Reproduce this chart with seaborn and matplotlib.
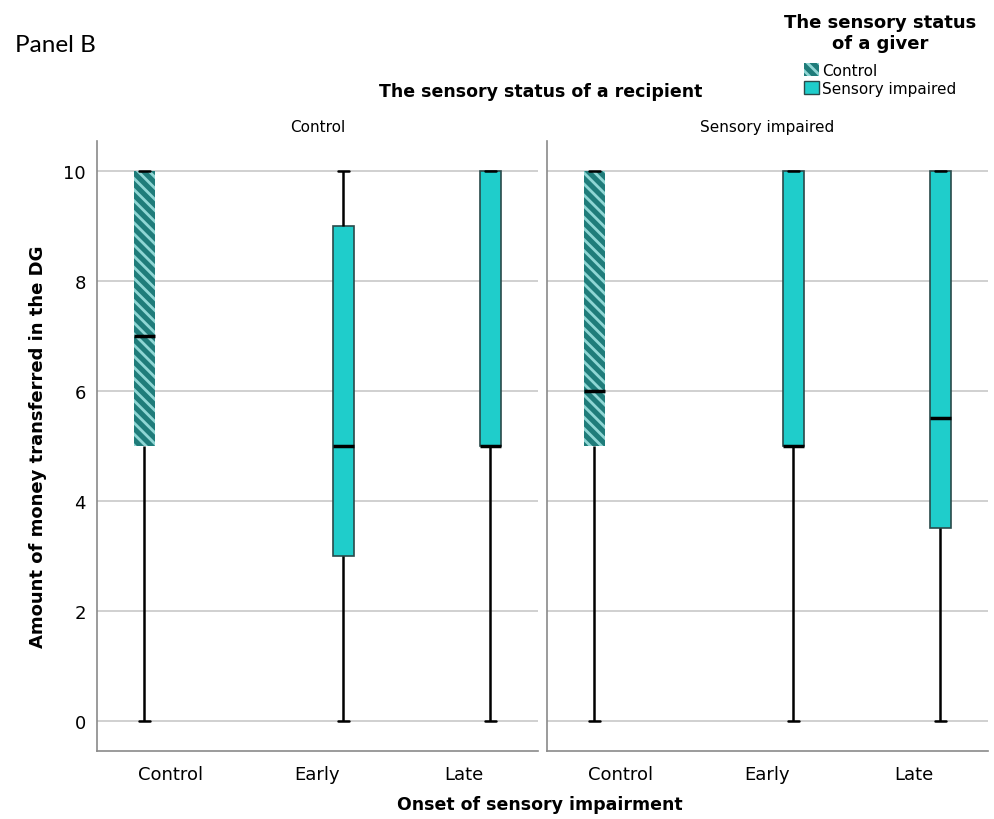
import pandas as pd
import seaborn as sns
import matplotlib.pyplot as plt
from matplotlib.patches import Patch

# Onset groups on the x axis and who is the giver in each group
onset_levels = ["Control", "Early", "Late"]
giver_of_onset = ["Control", "Sensory impaired", "Sensory impaired"]
giver_levels = ["Control", "Sensory impaired"]
recipient_levels = ["Control", "Sensory impaired"]

# five-number summaries: min, Q1, median, Q3, max
recip_control = [
    [0, 5, 7, 10, 10],     # Control
    [0, 3, 5, 9, 10],      # Early
    [0, 5, 5, 10, 10],     # Late
]
recip_impaired = [
    [0, 5, 6, 10, 10],     # Control
    [0, 5, 5, 10, 10],     # Early
    [0, 3.5, 5.5, 10, 10], # Late
]

dark_teal = "#1f7c7a"
stripe = "#8fd6d4"
cyan = "#1fcdcb"
box_edge = "#2a4a4a"

rows = []
for recip, stats in zip(recipient_levels, [recip_control, recip_impaired]):
    for onset, giver, vals in zip(onset_levels, giver_of_onset, stats):
        for v in vals:
            rows.append({"recipient": recip, "onset": onset, "giver": giver, "amount": v})
df = pd.DataFrame(rows)

sns.set_style("white")
plt.rcParams['font.family'] = ['DejaVu Sans']
plt.rcParams['hatch.linewidth'] = 2.0
for k in ['text.color', 'axes.labelcolor', 'xtick.color', 'ytick.color']:
    plt.rcParams[k] = 'black'

fig = plt.figure(figsize=(9.95, 8.2), dpi=100)
ax1 = fig.add_axes([0.0975, 0.083, 0.443, 0.744])
ax2 = fig.add_axes([0.5497, 0.083, 0.443, 0.744])

for ax, recip in zip([ax1, ax2], recipient_levels):
    sub = df[df["recipient"] == recip]
    sns.boxplot(
        data=sub, x="onset", y="amount", hue="giver",
        order=onset_levels, hue_order=giver_levels,
        palette={"Control": dark_teal, "Sensory impaired": cyan},
        saturation=1, whis=(0, 100), width=0.71, gap=0.6, dodge=True,
        linecolor=box_edge, linewidth=1.2,
        medianprops={"color": "black", "linewidth": 2.5},
        whiskerprops={"color": "black", "linewidth": 1.8},
        capprops={"color": "black", "linewidth": 1.8},
        legend=False, ax=ax,
    )
    # hatched look for control givers
    for p in ax.patches:
        fc = p.get_facecolor()
        if abs(fc[0] - 0x1f / 255) < 0.03 and abs(fc[1] - 0x7c / 255) < 0.03:
            p.set_hatch("\\\\\\")
            p.set_edgecolor(stripe)
            p.set_linewidth(0)
    ax.set_ylim(-0.55, 10.55)
    ax.set_xlim(-0.5, 2.5)
    ax.set_yticks([0, 2, 4, 6, 8, 10])
    ax.yaxis.grid(True, color="#c8c8c8", linewidth=1.2)
    ax.set_axisbelow(True)
    ax.tick_params(axis="both", length=0, labelsize=13, pad=8)
    ax.tick_params(axis="x", pad=10)
    for s in ["top", "right"]:
        ax.spines[s].set_visible(False)
    for s in ["left", "bottom"]:
        ax.spines[s].set_color("#8a8a8a")
        ax.spines[s].set_linewidth(1.2)
    ax.set_xlabel("")
    ax.set_title(recip, fontsize=11, pad=7)

ax1.set_ylabel("Amount of money transferred in the DG", fontsize=13, fontweight="bold", labelpad=12)
ax2.set_ylabel("")
ax2.set_yticklabels([])

fig.text(0.543, 1 - 92 / 820, "The sensory status of a recipient", ha="center", va="center",
         fontsize=12.5, fontweight="bold")
fig.text(0.543, 1 - 805 / 820, "Onset of sensory impairment", ha="center", va="center",
         fontsize=12.5, fontweight="bold")
fig.text(15 / 995, 1 - 45 / 820, "Panel B", ha="left", va="center", fontsize=17.5, family="Lato")

handles = [
    Patch(facecolor=dark_teal, edgecolor=stripe, hatch="\\\\\\", linewidth=0, label="Control"),
    Patch(facecolor=cyan, edgecolor=box_edge, linewidth=1, label="Sensory impaired"),
]
leg = fig.legend(handles=handles, loc="upper right", bbox_to_anchor=(0.995, 1.0),
                 title="The sensory status\nof a giver", frameon=False, fontsize=11,
                 title_fontproperties={"weight": "bold", "size": 13},
                 handlelength=0.95, handleheight=0.95, handletextpad=0.2, labelspacing=0.2,
                 alignment="center")
leg.get_title().set_multialignment("center")
leg._legend_box.sep = 8

fig.savefig("out.png", dpi=100)
